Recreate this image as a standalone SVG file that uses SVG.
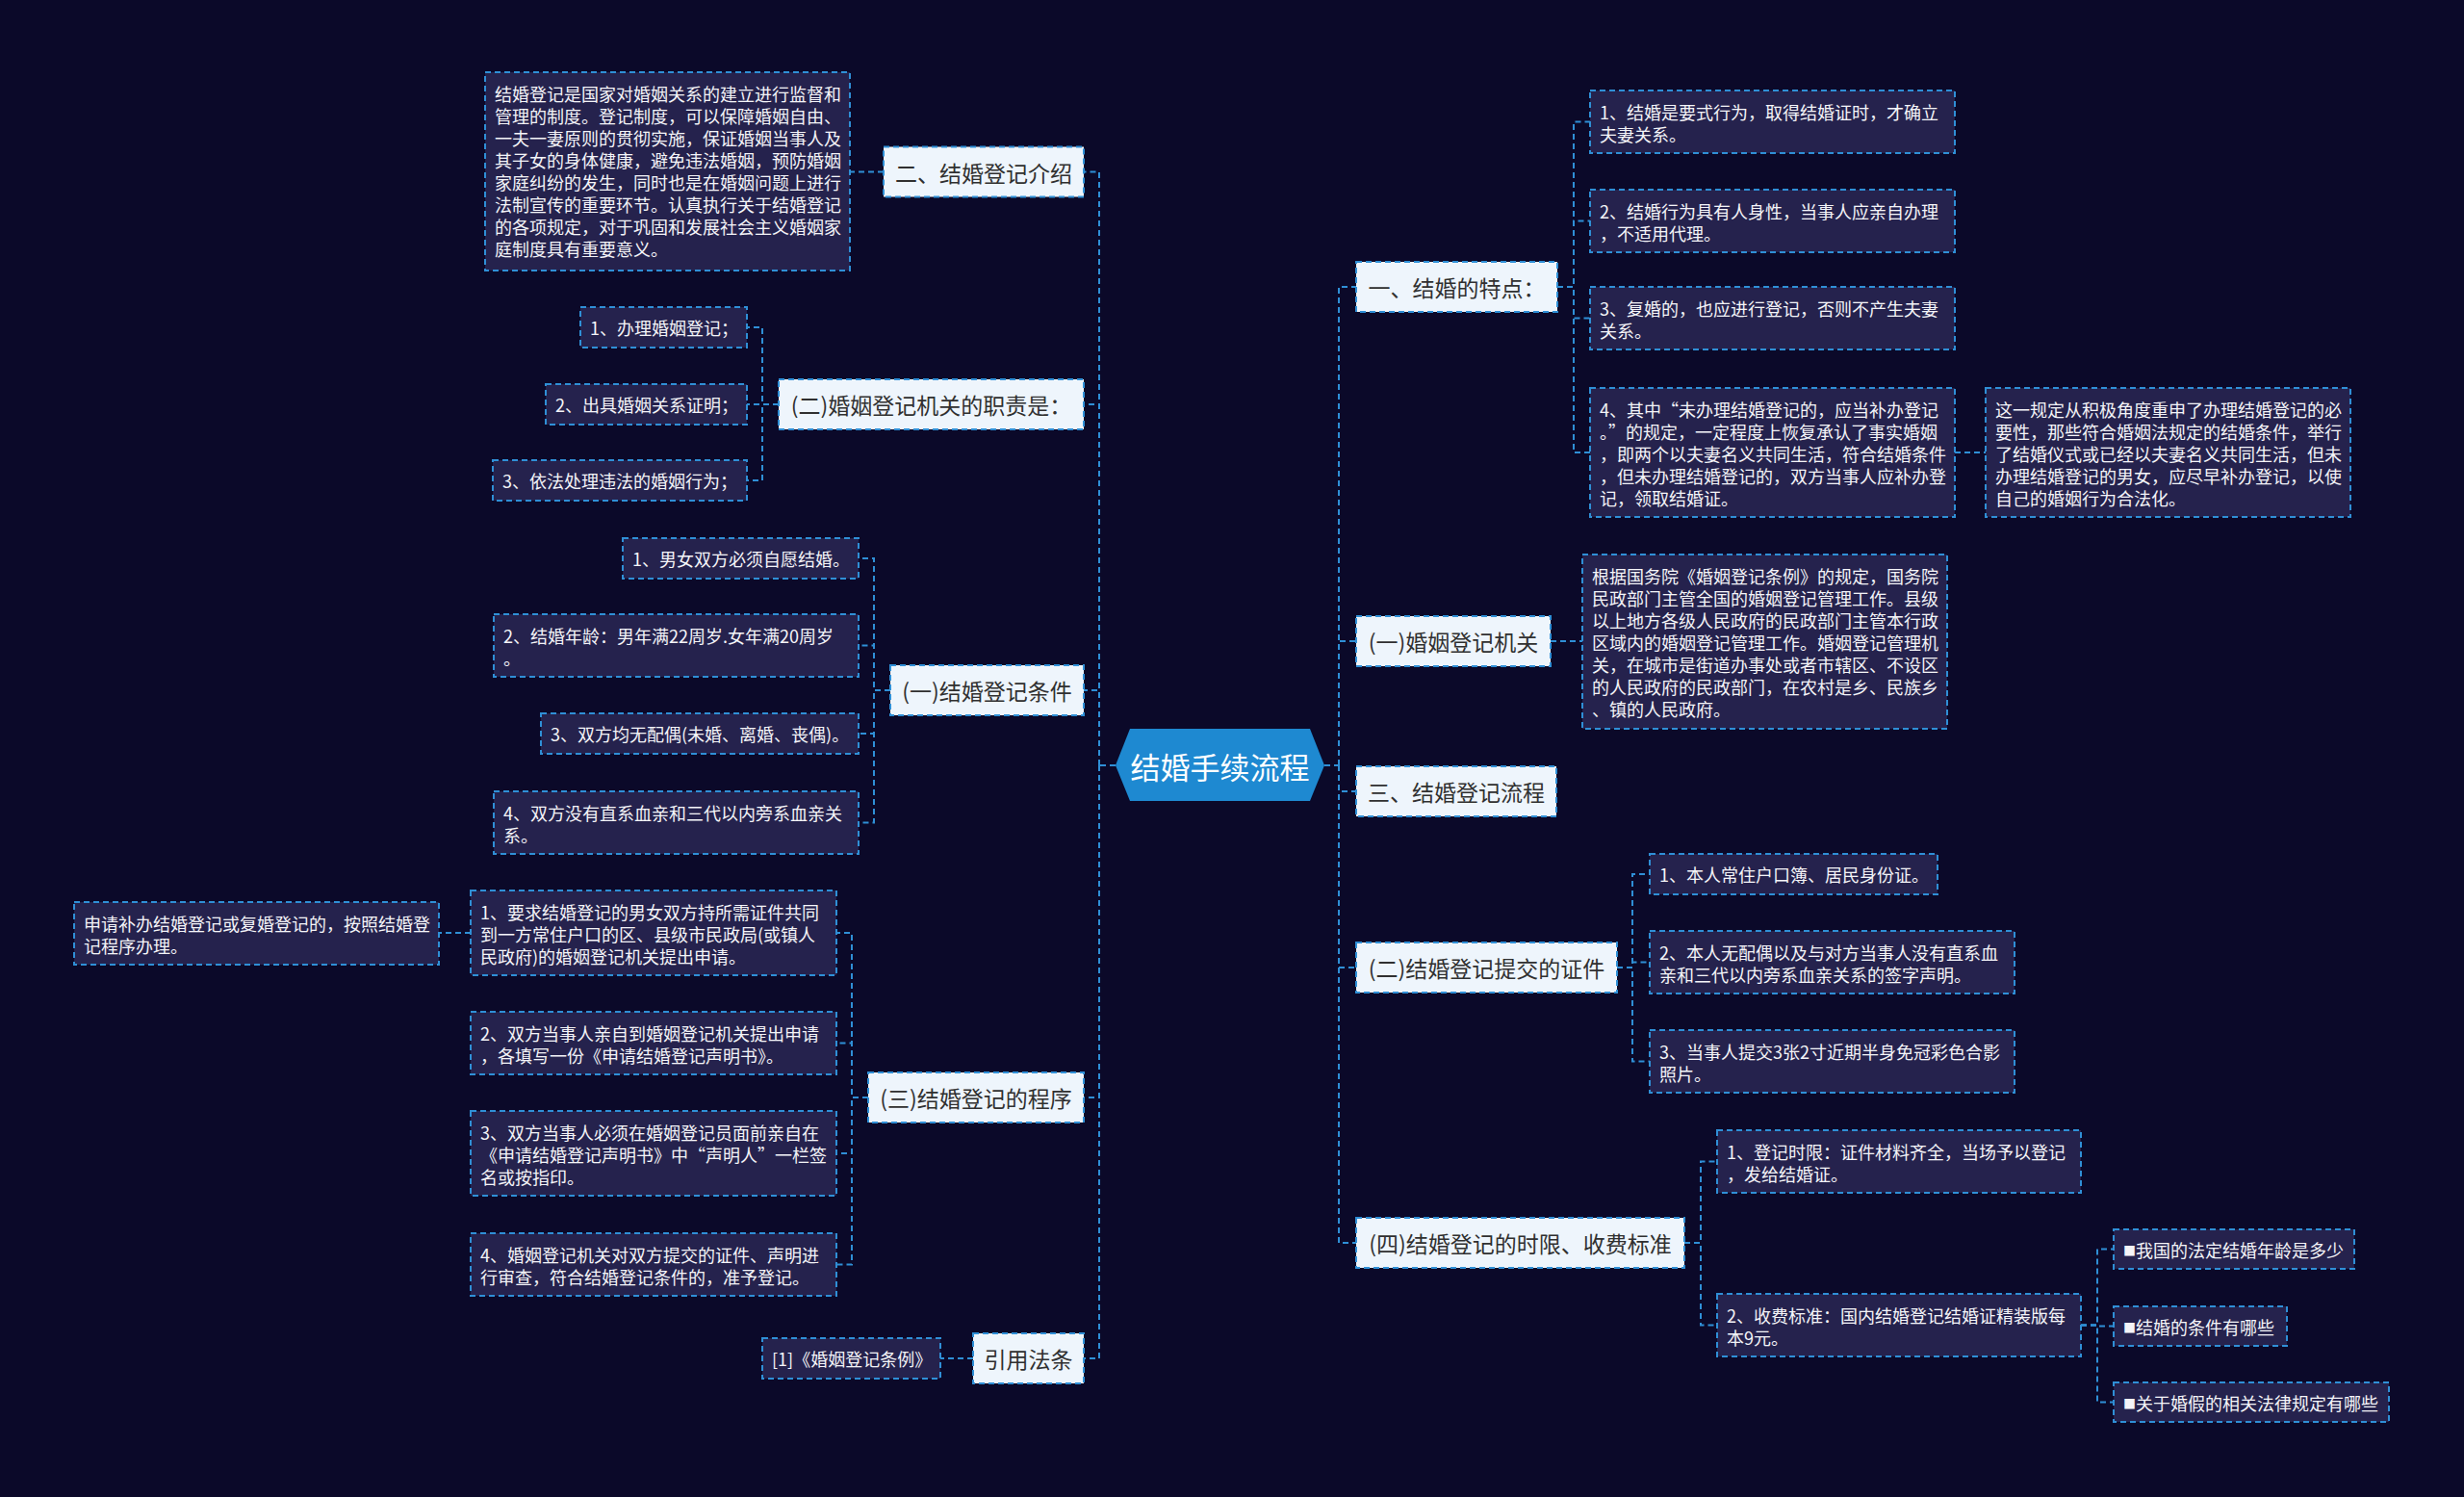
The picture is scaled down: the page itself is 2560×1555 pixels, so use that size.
<svg xmlns="http://www.w3.org/2000/svg" width="2560" height="1555" viewBox="0 0 2560 1555">
<style>
.l1 rect{fill:#eef5fc;stroke:#2f8fd6;stroke-width:2;stroke-dasharray:6 4}
.l1 text{font-family:"Noto Sans CJK SC","Noto Sans",sans-serif;font-size:23px;fill:#303030;text-anchor:middle;dominant-baseline:central}
.lf rect{fill:#25224d;stroke:#2f8fd6;stroke-width:2;stroke-dasharray:6 4}
.lf text{font-family:"Noto Sans CJK SC","Noto Sans",sans-serif;font-size:18px;fill:#f4f4f8;dominant-baseline:central}
.lf tspan.sq{font-size:13px}
.conn path{fill:none;stroke:#2f8fd6;stroke-width:2;stroke-dasharray:6 4}
</style>
<rect width="2560" height="1555" fill="#0b0929"/>

<g class="conn" id="connectors">
<path d="M1159,795 H1142"/>
<path d="M1142,795 V178.5 H1126"/>
<path d="M1142,795 V420 H1126"/>
<path d="M1142,795 V717 H1126"/>
<path d="M1142,795 V1140 H1126"/>
<path d="M1142,795 V1411 H1126"/>
<path d="M1376,795 H1391"/>
<path d="M1391,795 V298 H1409"/>
<path d="M1391,795 V666 H1409"/>
<path d="M1391,795 V822 H1409"/>
<path d="M1391,795 V1005 H1409"/>
<path d="M1391,795 V1291 H1409"/>
<path d="M1618,298 H1635 V126.5 H1652"/>
<path d="M1618,298 H1635 V229.5 H1652"/>
<path d="M1618,298 H1635 V330.5 H1652"/>
<path d="M1618,298 H1635 V470 H1652"/>
<path d="M2031,470 H2063"/>
<path d="M1611,666 H1644"/>
<path d="M1680,1005 H1696 V908 H1714"/>
<path d="M1680,1005 H1696 V999.5 H1714"/>
<path d="M1680,1005 H1696 V1102.5 H1714"/>
<path d="M1750,1291 H1767 V1206.5 H1784"/>
<path d="M1750,1291 H1767 V1376.5 H1784"/>
<path d="M2162,1376.5 H2179 V1297.5 H2196"/>
<path d="M2162,1376.5 H2179 V1377.5 H2196"/>
<path d="M2162,1376.5 H2179 V1456.5 H2196"/>
<path d="M918,178.5 H883"/>
<path d="M809,420 H792 V340 H776"/>
<path d="M809,420 H776"/>
<path d="M809,420 H792 V499 H776"/>
<path d="M925,717 H908 V580 H892"/>
<path d="M925,717 H908 V670.5 H892"/>
<path d="M925,717 H908 V762 H892"/>
<path d="M925,717 H908 V854.5 H892"/>
<path d="M902,1140 H885 V969 H869"/>
<path d="M902,1140 H885 V1083.5 H869"/>
<path d="M902,1140 H885 V1198 H869"/>
<path d="M902,1140 H885 V1313.5 H869"/>
<path d="M489,969 H456"/>
<path d="M1011,1411 H977"/>
</g>

<g id="root">
<polygon points="1159,795 1174,757 1361,757 1376,795 1361,832 1174,832" fill="#1e89d1"/>
<text x="1267.5" y="795" font-family="Noto Sans CJK SC, Noto Sans, sans-serif" font-size="31" fill="#ffffff" text-anchor="middle" dominant-baseline="central">结婚手续流程</text>
</g>

<!-- Left level 1 -->
<g id="n-intro" class="l1"><rect x="918" y="152.5" width="208" height="52"/><text x="1022" y="178.5">二、结婚登记介绍</text></g>
<g id="n-duty" class="l1"><rect x="809" y="394" width="317" height="52"/><text x="967.5" y="420">(二)婚姻登记机关的职责是：</text></g>
<g id="n-cond" class="l1"><rect x="925" y="691" width="201" height="52"/><text x="1025.5" y="717">(一)结婚登记条件</text></g>
<g id="n-proc" class="l1"><rect x="902" y="1114" width="224" height="52"/><text x="1014" y="1140">(三)结婚登记的程序</text></g>
<g id="n-law" class="l1"><rect x="1011" y="1385" width="115" height="52"/><text x="1068.5" y="1411">引用法条</text></g>

<!-- Right level 1 -->
<g id="n-feat" class="l1"><rect x="1409" y="272" width="209" height="52"/><text x="1513.5" y="298">一、结婚的特点：</text></g>
<g id="n-org" class="l1"><rect x="1409" y="640" width="202" height="52"/><text x="1510" y="666">(一)婚姻登记机关</text></g>
<g id="n-flow" class="l1"><rect x="1409" y="796" width="208" height="52"/><text x="1513" y="822">三、结婚登记流程</text></g>
<g id="n-docs" class="l1"><rect x="1409" y="979" width="271" height="52"/><text x="1544.5" y="1005">(二)结婚登记提交的证件</text></g>
<g id="n-time" class="l1"><rect x="1409" y="1265" width="341" height="52"/><text x="1579.5" y="1291">(四)结婚登记的时限、收费标准</text></g>

<!-- Left leaves -->
<g id="intro-text" class="lf"><rect x="504" y="75" width="379" height="206"/>
<text x="514" y="96.5">结婚登记是国家对婚姻关系的建立进行监督和</text>
<text x="514" y="119.5">管理的制度。登记制度，可以保障婚姻自由、</text>
<text x="514" y="142.5">一夫一妻原则的贯彻实施，保证婚姻当事人及</text>
<text x="514" y="165.5">其子女的身体健康，避免违法婚姻，预防婚姻</text>
<text x="514" y="188.5">家庭纠纷的发生，同时也是在婚姻问题上进行</text>
<text x="514" y="211.5">法制宣传的重要环节。认真执行关于结婚登记</text>
<text x="514" y="234.5">的各项规定，对于巩固和发展社会主义婚姻家</text>
<text x="514" y="257.5">庭制度具有重要意义。</text>
</g>
<g id="duty-1" class="lf"><rect x="603" y="319" width="173" height="42"/><text x="613" y="340">1、办理婚姻登记；</text></g>
<g id="duty-2" class="lf"><rect x="567" y="399" width="209" height="42"/><text x="577" y="420">2、出具婚姻关系证明；</text></g>
<g id="duty-3" class="lf"><rect x="512" y="478" width="264" height="42"/><text x="522" y="499">3、依法处理违法的婚姻行为；</text></g>

<g id="cond-1" class="lf"><rect x="647" y="559" width="245" height="42"/><text x="657" y="580">1、男女双方必须自愿结婚。</text></g>
<g id="cond-2" class="lf"><rect x="513" y="638" width="379" height="65"/><text x="523" y="659.5">2、结婚年龄：男年满22周岁.女年满20周岁</text><text x="523" y="682.5">。</text></g>
<g id="cond-3" class="lf"><rect x="562" y="741" width="330" height="42"/><text x="572" y="762">3、双方均无配偶(未婚、离婚、丧偶)。</text></g>
<g id="cond-4" class="lf"><rect x="513" y="822" width="379" height="65"/><text x="523" y="843.5">4、双方没有直系血亲和三代以内旁系血亲关</text><text x="523" y="866.5">系。</text></g>

<g id="proc-1" class="lf"><rect x="489" y="925" width="380" height="88"/>
<text x="499" y="946.5">1、要求结婚登记的男女双方持所需证件共同</text>
<text x="499" y="969.5">到一方常住户口的区、县级市民政局(或镇人</text>
<text x="499" y="992.5">民政府)的婚姻登记机关提出申请。</text></g>
<g id="proc-note" class="lf"><rect x="77" y="937" width="379" height="65"/>
<text x="87" y="958.5">申请补办结婚登记或复婚登记的，按照结婚登</text>
<text x="87" y="981.5">记程序办理。</text></g>
<g id="proc-2" class="lf"><rect x="489" y="1051" width="380" height="65"/>
<text x="499" y="1072.5">2、双方当事人亲自到婚姻登记机关提出申请</text>
<text x="499" y="1095.5">，各填写一份《申请结婚登记声明书》。</text></g>
<g id="proc-3" class="lf"><rect x="489" y="1154" width="380" height="88"/>
<text x="499" y="1175.5">3、双方当事人必须在婚姻登记员面前亲自在</text>
<text x="499" y="1198.5">《申请结婚登记声明书》中“声明人”一栏签</text>
<text x="499" y="1221.5">名或按指印。</text></g>
<g id="proc-4" class="lf"><rect x="489" y="1281" width="380" height="65"/>
<text x="499" y="1302.5">4、婚姻登记机关对双方提交的证件、声明进</text>
<text x="499" y="1325.5">行审查，符合结婚登记条件的，准予登记。</text></g>
<g id="law-1" class="lf"><rect x="792" y="1390" width="185" height="42"/><text x="802" y="1411">[1]《婚姻登记条例》</text></g>

<!-- Right leaves -->
<g id="feat-1" class="lf"><rect x="1652" y="94" width="379" height="65"/>
<text x="1662" y="115.5">1、结婚是要式行为，取得结婚证时，才确立</text>
<text x="1662" y="138.5">夫妻关系。</text></g>
<g id="feat-2" class="lf"><rect x="1652" y="197" width="379" height="65"/>
<text x="1662" y="218.5">2、结婚行为具有人身性，当事人应亲自办理</text>
<text x="1662" y="241.5">，不适用代理。</text></g>
<g id="feat-3" class="lf"><rect x="1652" y="298" width="379" height="65"/>
<text x="1662" y="319.5">3、复婚的，也应进行登记，否则不产生夫妻</text>
<text x="1662" y="342.5">关系。</text></g>
<g id="feat-4" class="lf"><rect x="1652" y="403" width="379" height="134"/>
<text x="1662" y="424.5">4、其中“未办理结婚登记的，应当补办登记</text>
<text x="1662" y="447.5">。”的规定，一定程度上恢复承认了事实婚姻</text>
<text x="1662" y="470.5">，即两个以夫妻名义共同生活，符合结婚条件</text>
<text x="1662" y="493.5">，但未办理结婚登记的，双方当事人应补办登</text>
<text x="1662" y="516.5">记，领取结婚证。</text></g>
<g id="feat-4-note" class="lf"><rect x="2063" y="403" width="379" height="134"/>
<text x="2073" y="424.5">这一规定从积极角度重申了办理结婚登记的必</text>
<text x="2073" y="447.5">要性，那些符合婚姻法规定的结婚条件，举行</text>
<text x="2073" y="470.5">了结婚仪式或已经以夫妻名义共同生活，但未</text>
<text x="2073" y="493.5">办理结婚登记的男女，应尽早补办登记，以使</text>
<text x="2073" y="516.5">自己的婚姻行为合法化。</text></g>
<g id="org-text" class="lf"><rect x="1644" y="576" width="379" height="181"/>
<text x="1654" y="597.5">根据国务院《婚姻登记条例》的规定，国务院</text>
<text x="1654" y="620.5">民政部门主管全国的婚姻登记管理工作。县级</text>
<text x="1654" y="643.5">以上地方各级人民政府的民政部门主管本行政</text>
<text x="1654" y="666.5">区域内的婚姻登记管理工作。婚姻登记管理机</text>
<text x="1654" y="689.5">关，在城市是街道办事处或者市辖区、不设区</text>
<text x="1654" y="712.5">的人民政府的民政部门，在农村是乡、民族乡</text>
<text x="1654" y="735.5">、镇的人民政府。</text></g>
<g id="docs-1" class="lf"><rect x="1714" y="887" width="299" height="42"/><text x="1724" y="908">1、本人常住户口簿、居民身份证。</text></g>
<g id="docs-2" class="lf"><rect x="1714" y="967" width="379" height="65"/>
<text x="1724" y="988.5">2、本人无配偶以及与对方当事人没有直系血</text>
<text x="1724" y="1011.5">亲和三代以内旁系血亲关系的签字声明。</text></g>
<g id="docs-3" class="lf"><rect x="1714" y="1070" width="379" height="65"/>
<text x="1724" y="1091.5">3、当事人提交3张2寸近期半身免冠彩色合影</text>
<text x="1724" y="1114.5">照片。</text></g>
<g id="time-1" class="lf"><rect x="1784" y="1174" width="378" height="65"/>
<text x="1794" y="1195.5">1、登记时限：证件材料齐全，当场予以登记</text>
<text x="1794" y="1218.5">，发给结婚证。</text></g>
<g id="time-2" class="lf"><rect x="1784" y="1344" width="378" height="65"/>
<text x="1794" y="1365.5">2、收费标准：国内结婚登记结婚证精装版每</text>
<text x="1794" y="1388.5">本9元。</text></g>
<g id="rel-1" class="lf"><rect x="2196" y="1277" width="250" height="41"/><text x="2206" y="1297.5"><tspan class="sq">■</tspan>我国的法定结婚年龄是多少</text></g>
<g id="rel-2" class="lf"><rect x="2196" y="1357" width="180" height="41"/><text x="2206" y="1377.5"><tspan class="sq">■</tspan>结婚的条件有哪些</text></g>
<g id="rel-3" class="lf"><rect x="2196" y="1436" width="286" height="41"/><text x="2206" y="1456.5"><tspan class="sq">■</tspan>关于婚假的相关法律规定有哪些</text></g>
</svg>
